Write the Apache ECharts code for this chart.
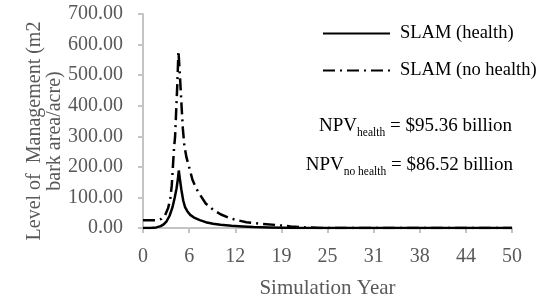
<!DOCTYPE html>
<html lang="en">
<head>
    <meta charset="UTF-8">
    <title>SLAM management level</title>
    <style>
        html, body { margin: 0; padding: 0; background: #fff; }
        #main { width: 543px; height: 299px; }
    </style>
</head>
<body>
<div id="main"></div>
<script src="https://cdn.jsdelivr.net/npm/echarts@6/dist/echarts.min.js"></script>
<script>
    const chart = echarts.init(document.getElementById('main'));

    // [year, level]
    const slamHealth = [
        [0, 0], [1, 0], [1.8, 2], [2.4, 6], [2.8, 12], [3.2, 22], [3.6, 40],
        [4.0, 68], [4.3, 100], [4.55, 130], [4.75, 165], [4.85, 188], [5.0, 160],
        [5.2, 125], [5.45, 90], [5.7, 68], [6.0, 55], [6.4, 43], [7.0, 33],
        [7.7, 26], [8.5, 19], [9.5, 14], [10.5, 11], [12, 7], [13.5, 5],
        [15, 3], [17, 2], [19, 1], [21, 0], [50, 0]
    ];
    const slamNoHealth = [
        [0, 25], [1, 25], [2, 26], [2.5, 30], [3.0, 42], [3.4, 65], [3.7, 95],
        [3.9, 140], [4.05, 200], [4.2, 260], [4.35, 300], [4.5, 385], [4.65, 470],
        [4.75, 540], [4.8, 578], [4.9, 540], [5.0, 500], [5.2, 410], [5.4, 325],
        [5.6, 270], [5.9, 230], [6.3, 195], [6.7, 158], [7.2, 130], [7.7, 110],
        [8.5, 80], [9.5, 60], [10.5, 45], [11.5, 35], [12.5, 27], [14, 19],
        [16, 14], [18, 10], [20, 5], [22, 2], [24, 0], [50, 0]
    ];
    const xTickLabels = ['0', '6', '12', '19', '25', '31', '38', '44', '50'];
    const seriesNames = ['SLAM (health)', 'SLAM (no health)'];
    const npvHealth = '$95.36 billion';
    const npvNoHealth = '$86.52 billion';

    const serif = 'Liberation Serif';
    const grey = '#595959';
    const axisGrey = '#c4c4c4';

    const npvRich = {
        a: { fontFamily: serif, fontSize: 19, fill: '#000', lineHeight: 22, verticalAlign: 'top' },
        b: { fontFamily: serif, fontSize: 11.5, fill: '#000', lineHeight: 22, verticalAlign: 'bottom' }
    };

    const option = {
        animation: false,
        grid: { left: 143, right: 31, top: 14, bottom: 71, outerBoundsMode: 'none' },
        legend: {
            orient: 'vertical',
            left: 322,
            top: 24,
            padding: 0,
            itemWidth: 67,
            itemHeight: 14,
            itemGap: 18,
            itemStyle: { opacity: 0 },
            textStyle: { fontFamily: serif, fontSize: 18.5, color: '#000', padding: [0, 0, 0, 5] },
            data: seriesNames
        },
        xAxis: {
            type: 'value',
            min: 0,
            max: 50,
            interval: 6.25,
            name: 'Simulation Year',
            nameLocation: 'middle',
            nameGap: 50,
            nameTextStyle: { fontFamily: serif, fontSize: 21, color: grey },
            axisLine: { lineStyle: { color: axisGrey, width: 2 } },
            axisTick: { show: true, length: 5, lineStyle: { color: axisGrey, width: 2 } },
            axisLabel: {
                fontFamily: serif, fontSize: 20, color: grey, margin: 19,
                formatter: v => xTickLabels[Math.round(v / 6.25)]
            },
            splitLine: { show: false }
        },
        yAxis: {
            type: 'value',
            min: 0,
            max: 700,
            interval: 100,
            axisLine: { show: true, lineStyle: { color: axisGrey, width: 2 } },
            axisTick: { show: true, length: 5, lineStyle: { color: axisGrey, width: 2 } },
            axisLabel: {
                fontFamily: serif, fontSize: 20, color: grey, margin: 20,
                formatter: v => v.toFixed(2)
            },
            splitLine: { show: false }
        },
        graphic: [
            {
                type: 'text',
                x: 45,
                y: 131,
                rotation: Math.PI / 2,
                style: {
                    text: 'Level of  Management (m2\nbark area/acre)',
                    fontFamily: serif,
                    fontSize: 20,
                    lineHeight: 20,
                    fill: grey,
                    align: 'center',
                    verticalAlign: 'middle'
                }
            },
            {
                type: 'text',
                x: 512,
                y: 117,
                style: { text: '{a|NPV}{b|health}{a| = ' + npvHealth + '}', align: 'right', rich: npvRich }
            },
            {
                type: 'text',
                x: 513,
                y: 156,
                style: { text: '{a|NPV}{b|no health}{a| = ' + npvNoHealth + '}', align: 'right', rich: npvRich }
            }
        ],
        series: [
            {
                name: seriesNames[0],
                type: 'line',
                data: slamHealth,
                symbol: 'none',
                lineStyle: { color: '#000', width: 2.5 },
                itemStyle: { color: '#000' }
            },
            {
                name: seriesNames[1],
                type: 'line',
                data: slamNoHealth,
                symbol: 'none',
                lineStyle: { color: '#000', width: 2.5, type: [12, 5, 2, 5] },
                itemStyle: { color: '#000' }
            }
        ]
    };

    chart.setOption(option);
</script>
</body>
</html>
